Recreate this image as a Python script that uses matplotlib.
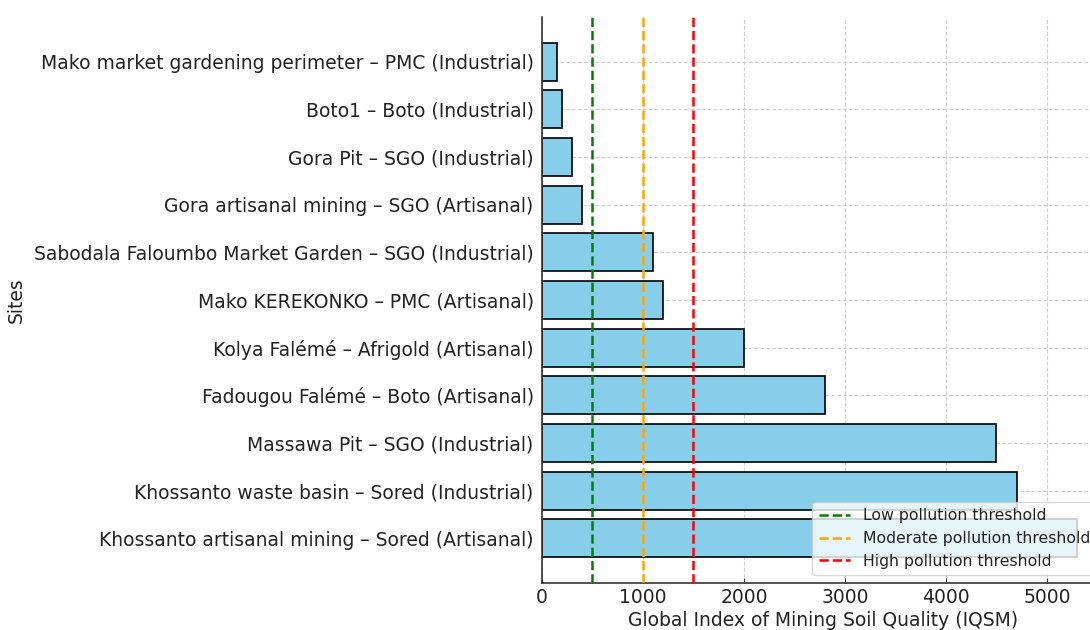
import matplotlib
matplotlib.use("Agg")
import matplotlib.pyplot as plt

sites = [
    "Khossanto artisanal mining – Sored (Artisanal)",
    "Khossanto waste basin – Sored (Industrial)",
    "Massawa Pit – SGO (Industrial)",
    "Fadougou Falémé – Boto (Artisanal)",
    "Kolya Falémé – Afrigold (Artisanal)",
    "Mako KEREKONKO – PMC (Artisanal)",
    "Sabodala Faloumbo Market Garden – SGO (Industrial)",
    "Gora artisanal mining – SGO (Artisanal)",
    "Gora Pit – SGO (Industrial)",
    "Boto1 – Boto (Industrial)",
    "Mako market gardening perimeter – PMC (Industrial)",
]
iqsm = [5300, 4700, 4500, 2800, 2000, 1200, 1100, 400, 300, 200, 150]

thresholds = [500, 1000, 1500]
threshold_labels = ["Low pollution threshold", "Moderate pollution threshold", "High pollution threshold"]
threshold_colors = ["green", "orange", "red"]

plt.rcParams['font.family'] = ['DejaVu Sans']
text_color = '#222222'

fig = plt.figure(figsize=(10.9, 6.3), dpi=100)
ax = fig.add_axes([542/1090, 47/630, (1104-542)/1090, (583-17)/630])

ax.barh(sites, iqsm, color='skyblue', edgecolor='black', linewidth=1.2, zorder=2)
for t, lab, c in zip(thresholds, threshold_labels, threshold_colors):
    ax.axvline(t, color=c, linestyle='--', linewidth=1.8, label=lab, zorder=3)

ax.grid(True, linestyle='--', color='#cccccc', linewidth=0.8, alpha=0.9, zorder=0)
ax.set_axisbelow(True)
ax.spines['top'].set_visible(False)
ax.spines['right'].set_visible(False)
for s in ['left', 'bottom']:
    ax.spines[s].set_color('#333333')
    ax.spines[s].set_linewidth(1.2)

ax.tick_params(axis='both', direction='in', labelsize=13.5, colors='#333333', labelcolor=text_color)
ax.tick_params(axis='y', pad=6)
ax.set_xlabel("Global Index of Mining Soil Quality (IQSM)", fontsize=13.5, color=text_color, labelpad=3)
ax.set_ylabel("Sites", fontsize=13.5, color=text_color, labelpad=6)

leg = ax.legend(loc='lower right', fontsize=11.3, framealpha=0.8)
for txt in leg.get_texts():
    txt.set_color(text_color)

fig.savefig("out.png", dpi=100)
